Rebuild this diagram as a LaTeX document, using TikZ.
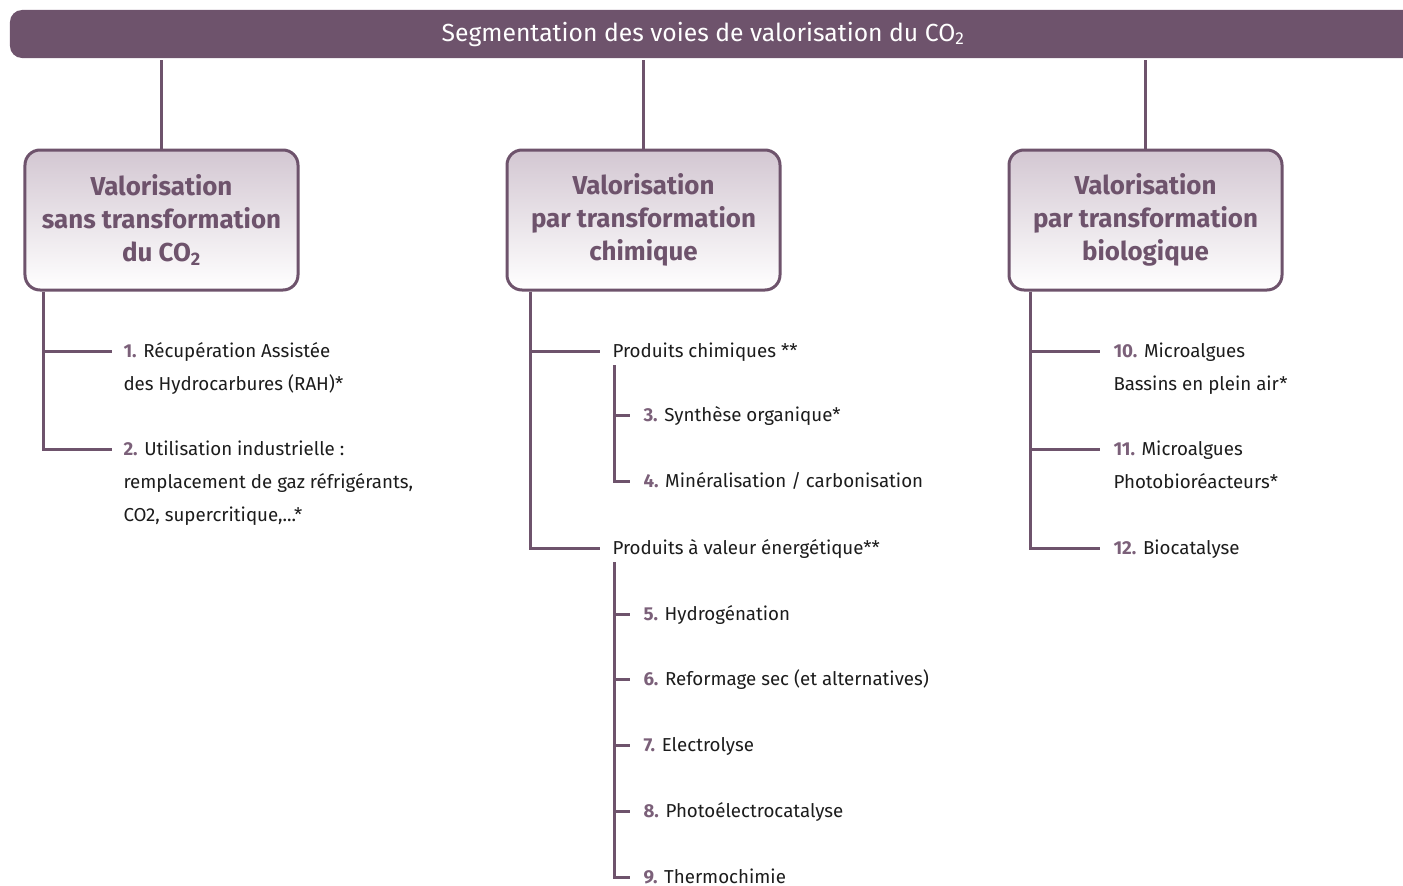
\documentclass[tikz,border=0pt]{standalone}
\usepackage{fontspec}
\setmainfont{Fira Sans}
\usetikzlibrary{positioning}
\definecolor{prune}{HTML}{6E536C}
\definecolor{pruneclair}{HTML}{D3C7D2}
\definecolor{prunenum}{HTML}{7B6079}
\definecolor{encre}{HTML}{1C1C1C}
\newcommand{\numero}[1]{\textcolor{prunenum}{\textbf{#1}}}

\begin{document}
\begin{tikzpicture}[x=1bp, y=-1bp, line width=3bp, draw=prune,
  bandeau/.style={fill=prune, rounded corners=12bp, minimum width=1420bp, minimum height=48bp, inner sep=0pt},
  titre/.style={text=white, font=\fontsize{24.8}{28}\selectfont},
  voie/.style={draw=prune, line width=3bp, rounded corners=15bp, top color=pruneclair, bottom color=white,
    minimum width=273bp, minimum height=140bp, align=center, text=prune, font=\fontsize{26}{33}\selectfont\bfseries},
  item/.style={anchor=base west, align=left, inner sep=0pt, text=encre, font=\fontsize{18.8}{33}\selectfont},
  trait/.style={draw=prune, line width=3bp}]
  \useasboundingbox (0,0) rectangle (1403,885);
  \clip (0,0) rectangle (1403,885);
  % bandeau du haut
  \node[bandeau] (bandeau) at (720,34) {};
  \node[titre] (titre) at (703,34) {Segmentation des voies de valorisation du CO\textsubscript{2}};
  % les trois voies
  \node[voie] (b1) at (161.5,220) {Valorisation\\sans transformation\\du CO\textsubscript{2}};
  \node[voie] (b2) at (643.5,220) {Valorisation\\par transformation\\chimique};
  \node[voie] (b3) at (1145.5,220) {Valorisation\\par transformation\\biologique};
  \foreach \b in {b1,b2,b3}
    \draw[trait] (\b.north) -- (\b.north |- bandeau.south);

  % sans transformation (base = derniere ligne)
  \node[item] (i1) at (122,390) {\numero{1.} Récupération Assistée\\des Hydrocarbures (RAH)*};
  \node[item] (i2) at (122,521) {\numero{2.} Utilisation industrielle :\\remplacement de gaz réfrigérants,\\CO2, supercritique,...*};
  \draw[trait] ([xshift=20bp]b1.south west) |- ([shift={(-10bp,39bp)}]i1.base west);
  \draw[trait] ([xshift=20bp]b1.south west) |- ([shift={(-10bp,72bp)}]i2.base west);

  % transformation chimique
  \node[item] (p1) at (611,357) {Produits chimiques **};
  \node[item] (p2) at (611,554) {Produits à valeur énergétique**};
  \foreach \p in {p1,p2}
    \draw[trait] ([xshift=25bp]b2.south west) |- ([shift={(-11bp,6bp)}]\p.base west);
  \node[item] (i3) at (642,421) {\numero{3.} Synthèse organique*};
  \node[item] (i4) at (642,487) {\numero{4.} Minéralisation / carbonisation};
  \foreach \i in {i3,i4}
    \draw[trait] ([shift={(3bp,-8bp)}]p1.base west) |- ([shift={(-12bp,6bp)}]\i.base west);
  \foreach \n/\t [count=\k from 0] in {5/Hydrogénation, 6/Reformage sec (et alternatives), 7/Electrolyse, 8/Photoélectrocatalyse, 9/Thermochimie} {
    \node[item] (i\n) at (642,620+65.75*\k) {\numero{\n.} \t};
    \draw[trait] ([shift={(3bp,-8bp)}]p2.base west) |- ([shift={(-12bp,6bp)}]i\n.base west);
  }

  % transformation biologique
  \node[item] (i10) at (1112,390) {\numero{10.} Microalgues\\Bassins en plein air*};
  \node[item] (i11) at (1112,488) {\numero{11.} Microalgues\\Photobioréacteurs*};
  \node[item] (i12) at (1112,554) {\numero{12.} Biocatalyse};
  \draw[trait] ([xshift=23bp]b3.south west) |- ([shift={(-12bp,39bp)}]i10.base west);
  \draw[trait] ([xshift=23bp]b3.south west) |- ([shift={(-12bp,39bp)}]i11.base west);
  \draw[trait] ([xshift=23bp]b3.south west) |- ([shift={(-12bp,6bp)}]i12.base west);
\end{tikzpicture}
\end{document}
